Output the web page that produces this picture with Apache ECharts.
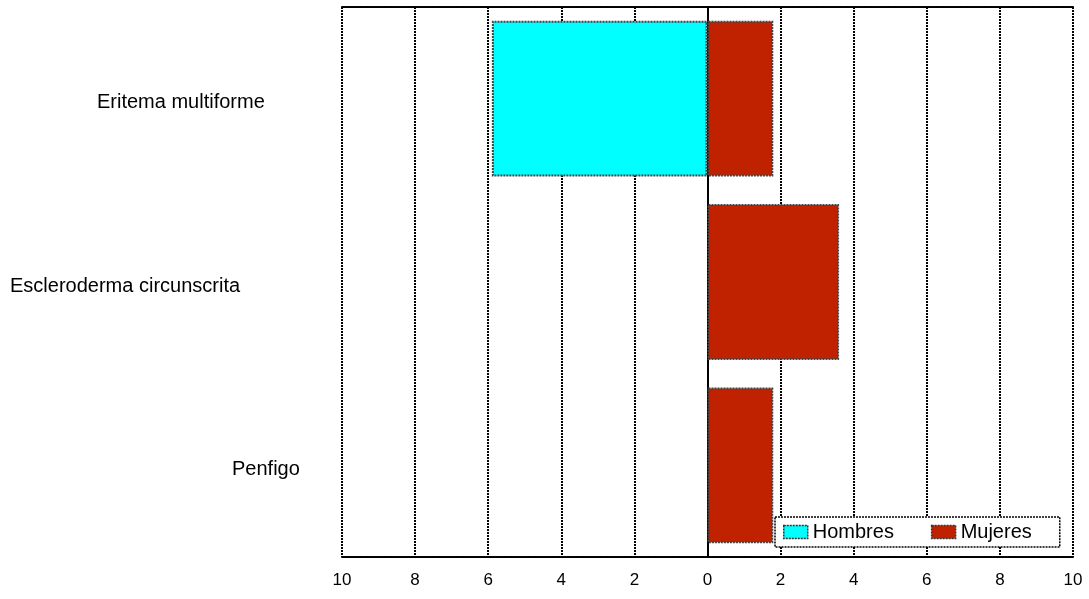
<!DOCTYPE html>
<html><head><meta charset="utf-8">
<script src="https://cdn.jsdelivr.net/npm/echarts@6/dist/echarts.min.js"></script>
<style>html,body{margin:0;padding:0;background:#fff}#c{width:1089px;height:599px}</style>
</head><body><div id="c"></div>
<script>
var categories = ['Eritema multiforme', 'Escleroderma circunscrita', 'Penfigo'];
var hombres = [5.9, null, null];
var mujeres = [1.8, 3.6, 1.8];
var tickLabels = ['10','8','6','4','2','0','2','4','6','8','10'];

var chart = echarts.init(document.getElementById('c'));
var dotted = [2, 1];
var richKeys = ['a', 'b', 'c'];
var labelLeft = [97, 10, 232];
var rich = {};
richKeys.forEach(function (k, i) {
  rich[k] = { fontFamily: 'Liberation Sans', fontSize: 20, color: '#000', padding: [8, 0, 0, labelLeft[i]] };
});
var lineStyle = { color: '#000', width: 2, type: dotted };
chart.setOption({
  animation: false,
  backgroundColor: '#fff',
  grid: { left: 342, right: 16, top: 7, bottom: 42 },
  legend: {
    data: ['Hombres', 'Mujeres'],
    icon: 'rect',
    left: 775, top: 517,
    padding: [5, 28, 5, 8],
    itemWidth: 24, itemHeight: 13, itemGap: 37,
    backgroundColor: '#fff',
    borderColor: '#000', borderWidth: 1.5, borderType: dotted,
    textStyle: { fontFamily: 'Liberation Sans', fontSize: 20, color: '#000' },
    itemStyle: { borderColor: '#333', borderWidth: 1.5, borderType: dotted }
  },
  xAxis: [{
    type: 'value', min: -10, max: 10, interval: 2,
    axisLine: { show: true, onZero: false, lineStyle: lineStyle },
    axisTick: { show: false },
    splitLine: { show: true, lineStyle: lineStyle },
    axisLabel: {
      margin: 15, fontFamily: 'Liberation Sans', fontSize: 17, color: '#000',
      formatter: function (v) { return tickLabels[Math.round((v + 10) / 2)]; }
    }
  }, {
    type: 'value', min: -10, max: 10, interval: 2, position: 'top',
    axisLine: { show: true, onZero: false, lineStyle: lineStyle },
    axisTick: { show: false }, axisLabel: { show: false }, splitLine: { show: false }
  }],
  yAxis: [{
    type: 'category', data: categories, inverse: true,
    axisLine: { show: true, lineStyle: lineStyle },
    axisTick: { show: false },
    axisLabel: {
      margin: 342, align: 'left',
      formatter: function (v, i) { return '{' + richKeys[i] + '|' + v + '}'; },
      rich: rich
    }
  }, {
    type: 'category', data: categories, inverse: true, position: 'right',
    axisLine: { show: true, lineStyle: lineStyle },
    axisTick: { show: false }, axisLabel: { show: false }
  }],
  series: [{
    name: 'Hombres', type: 'bar', barWidth: '85%', barGap: '-100%',
    data: hombres.map(function (v) { return v == null ? null : -v; }),
    itemStyle: { color: '#00FFFF', borderColor: '#444', borderWidth: 2, borderType: dotted }
  }, {
    name: 'Mujeres', type: 'bar', barWidth: '85%', barGap: '-100%',
    data: mujeres,
    itemStyle: { color: '#C02200', borderColor: '#444', borderWidth: 2, borderType: dotted }
  }]
});
</script></body></html>
